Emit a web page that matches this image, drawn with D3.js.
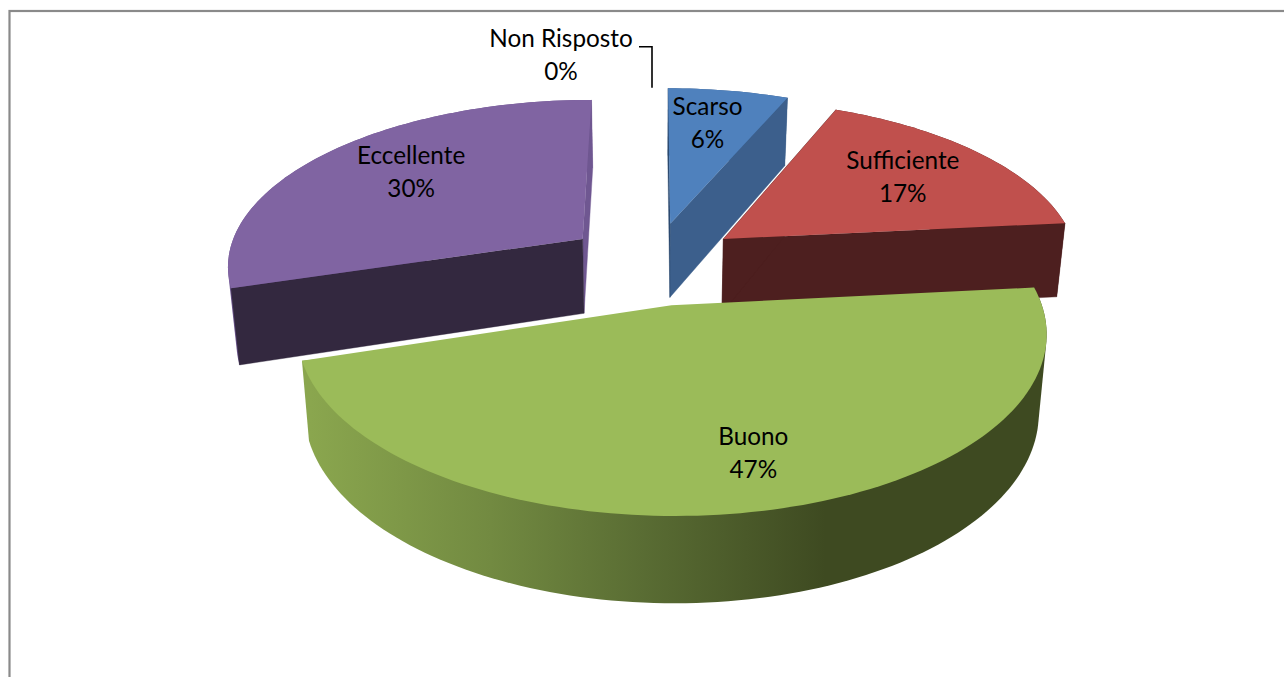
<!DOCTYPE html>
<html><head><meta charset="utf-8">
<style>html,body{margin:0;padding:0;background:#fff;overflow:hidden}svg{display:block}</style>
<script src="https://cdn.jsdelivr.net/npm/d3@7"></script></head>
<body><div id="chart"></div>
<script>
// data
const categories = ["Scarso","Sufficiente","Buono","Eccellente","Non Risposto"];
const values = [6.4,17,46.8,29.8,0];
const percentLabels = ["6%","17%","47%","30%","0%"];
// styles
const topColors = ["#4F81BD","#C0504D","#9BBB59","#8064A2","#4F81BD"];
const wallColors = ["#3C5F8C","#4D1F1F","#3E4A21","#33283F","#3C5F8C"];
const outerColors = ["#3C5F8C","#4D1F1F","#3E4A21","#6F5791","#3C5F8C"];
const sideEdgeColors = ["#2C4A70","#4D1F1F","#3E4A21","#6F5791","#3C5F8C"];
const drawOrder = [0,3,1,2];
const labelRadius = [.73,.69,.76,.70];
const labelNudge = [-1.7,0,-3,3.7];

const W=1284,H=677;
const cx=653,cy=263,k=.147,explode=.25,depth=75.5,floorScale=.98;
const sx=d3.scaleLinear().domain([0,1]).range([0,357]);
const sy=d3.scaleLinear().domain([0,1]).range([0,166]);

const svg=d3.select("#chart").append("svg").attr("width",W).attr("height",H);
svg.append("rect").attr("x",9.5).attr("y",11).attr("width",1400).attr("height",900)
  .attr("fill","#fff").attr("stroke","#8A8A8A").attr("stroke-width",2.2);

function project(x,t,z){
  const s=1/(1-k*t);
  const f=z?floorScale:1;
  return [cx+sx(x)*s*f, cy+sy(t)*s*f+(z?depth*s:0)];
}
const arcs=d3.pie().sort(null).value(d=>d).startAngle(0).endAngle(2*Math.PI)(values);
const line=d3.line();
function sliceGeom(a){
  const mid=(a.startAngle+a.endAngle)/2;
  const ex=explode*Math.sin(mid), et=-explode*Math.cos(mid);
  const pt=(th,r,z)=>project(ex+r*Math.sin(th),et-r*Math.cos(th),z);
  const n=Math.max(2,Math.ceil((a.endAngle-a.startAngle)*40));
  const ths=d3.range(n+1).map(i=>a.startAngle+(a.endAngle-a.startAngle)*i/n);
  return {mid,pt,ths};
}

const defs=svg.append("defs");
const grad=defs.append("linearGradient").attr("id","buonoSide").attr("gradientUnits","userSpaceOnUse")
  .attr("x1",project(-.9,.55,1)[0]).attr("y1",0).attr("x2",project(.42,1,1)[0]).attr("y2",0);
[[0,"#8AA64E"],[.35,"#728A41"],[.65,"#596C33"],[1,"#3E4A21"]].forEach(s=>
  grad.append("stop").attr("offset",s[0]).attr("stop-color",s[1]));

drawOrder.forEach(i=>{
  const a=arcs[i],g=sliceGeom(a),pt=g.pt;
  const G=svg.append("g").attr("class","slice");
  const wall=(t,fill)=>G.append("path").attr("d",line([pt(t,0,0),pt(t,1,0),pt(t,1,1),pt(t,0,1)])+"Z")
    .attr("fill",fill).attr("stroke",fill).attr("stroke-width",.4);
  const hull=d3.polygonHull(g.ths.map(t=>pt(t,1,0)).concat(g.ths.map(t=>pt(t,1,1))));
  G.append("path").attr("d",line(hull)+"Z")
    .attr("fill",i===2?"url(#buonoSide)":outerColors[i]);
  if(i!==2){
    wall(a.endAngle,i===3?sideEdgeColors[i]:wallColors[i]);
    wall(a.startAngle,i===3?wallColors[i]:sideEdgeColors[i]);
  }
  const top=[pt(a.startAngle,0,0)].concat(g.ths.map(t=>pt(t,1,0)));
  G.append("path").attr("d",line(top)+"Z").attr("fill",topColors[i]);
});

const font='Lato, sans-serif',fs=24.3;
function label(x,y,a,b){
  const T=svg.append("text").attr("text-anchor","middle").attr("font-family",font)
    .attr("font-size",fs).attr("fill","#000");
  T.append("tspan").attr("x",x).attr("y",y-8).text(a);
  T.append("tspan").attr("x",x).attr("y",y+25).text(b);
}
[0,1,2,3].forEach(i=>{
  const a=arcs[i],g=sliceGeom(a);
  const th=g.mid+labelNudge[i]*Math.PI/180;
  const p=g.pt(th,labelRadius[i],0);
  label(p[0],p[1],categories[i],percentLabels[i]);
});
// zero-value slice: leader line
const zero=sliceGeom(arcs[4]);
const tip=zero.pt(zero.mid,1,0);
svg.append("path").attr("d",line([[tip[0]-14,tip[1]-41],[tip[0]-1,tip[1]-41],[tip[0]-1,tip[1]]]))
  .attr("fill","none").attr("stroke","#000").attr("stroke-width",1.6);
label(tip[0]-92,tip[1]-33,categories[4],percentLabels[4]);
</script></body></html>
